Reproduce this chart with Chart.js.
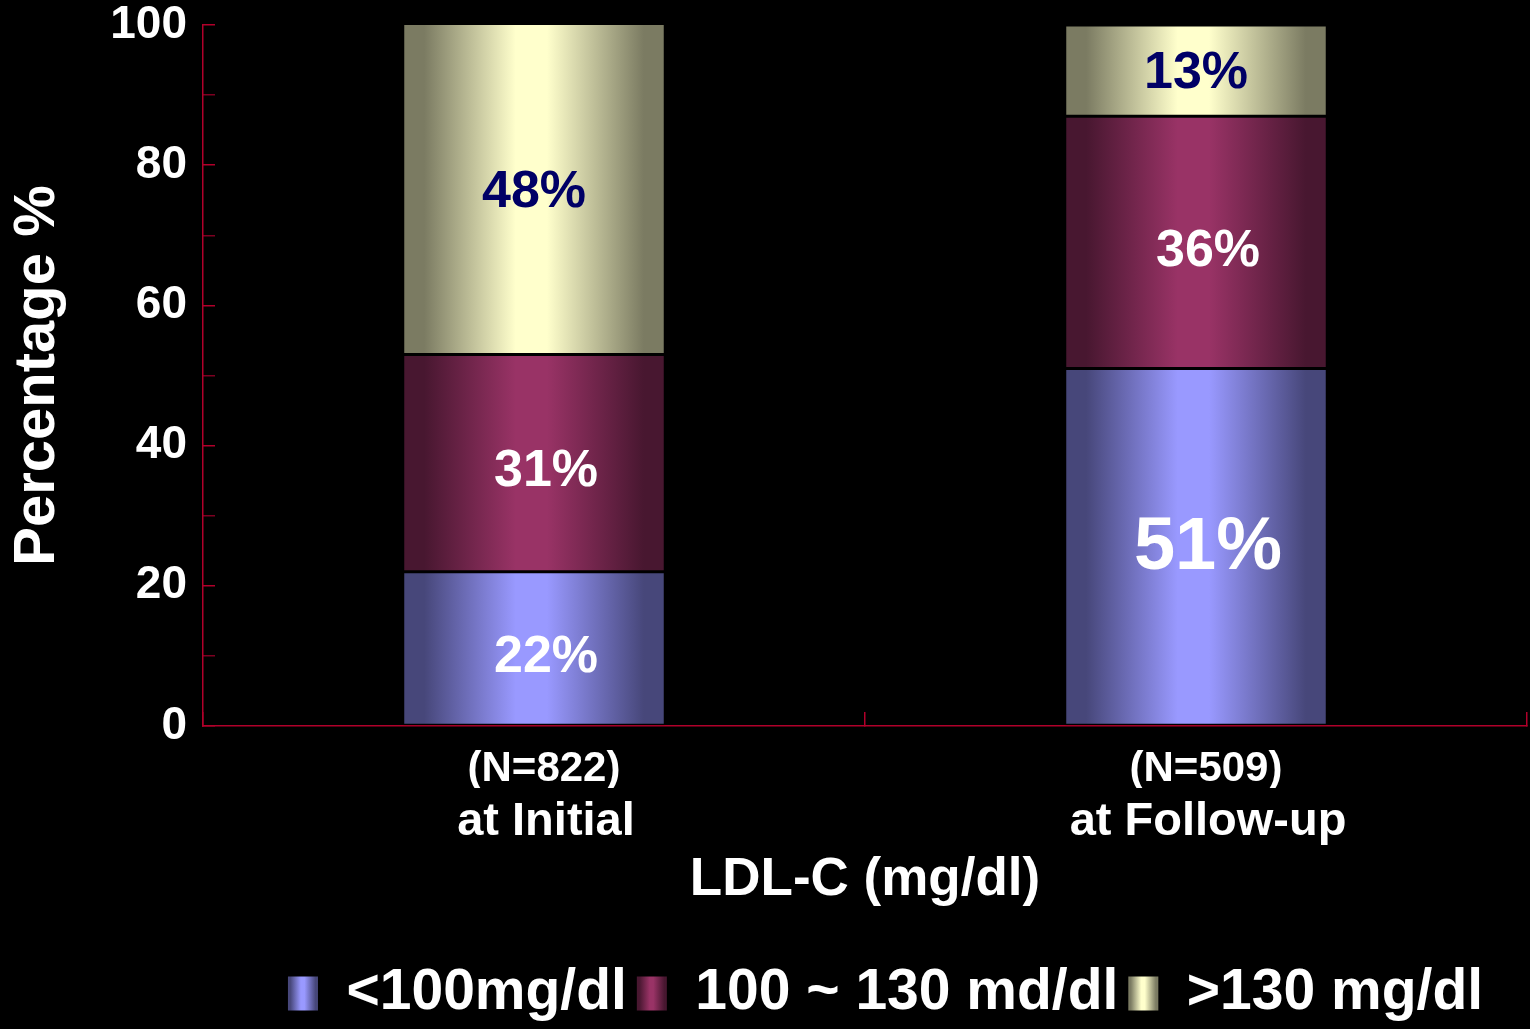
<!DOCTYPE html>
<html>
<head>
<meta charset="utf-8">
<title>LDL-C (mg/dl)</title>
<script src="https://cdn.jsdelivr.net/npm/chart.js@4/dist/chart.umd.min.js"></script>
<style>
  html, body { margin: 0; padding: 0; background: #000; }
  #wrap { width: 1530px; height: 1029px; position: relative; }
</style>
</head>
<body>
<div id="wrap"><canvas id="ldl"></canvas></div>
<script>
// ---- data ----
const categories = ['at Initial', 'at Follow-up'];
const sampleSizes = ['(N=822)', '(N=509)'];
const seriesNames = ['<100mg/dl', '100 ~ 130 md/dl', '>130 mg/dl'];
const below100 = [22, 51];
const from100to130 = [31, 36];
const above130 = [48, 13];
const yTickLabels = [0, 20, 40, 60, 80, 100];

// ---- style ----
const FONT = "'Liberation Sans', Arial, Helvetica, sans-serif";
const AXIS_RED = '#b0002a';
const AXIS_RED_MINOR = '#7c0020';
const BAR_FRACTION = 0.395;
const palette = [
  { light: '#9999ff', dark: '#47477a' },
  { light: '#993366', dark: '#481730' },
  { light: '#ffffcc', dark: '#7b7b62' }
];

Chart.defaults.font.family = FONT;
Chart.defaults.font.weight = 'bold';
Chart.defaults.color = '#ffffff';

// horizontal "cylinder" shading across a bar or legend swatch
function shade(ctx, x0, x1, pal) {
  if (!isFinite(x0) || !isFinite(x1) || x1 <= x0) return pal.light;
  const g = ctx.createLinearGradient(x0, 0, x1, 0);
  g.addColorStop(0, pal.dark);
  g.addColorStop(0.08, pal.dark);
  g.addColorStop(0.43, pal.light);
  g.addColorStop(0.55, pal.light);
  g.addColorStop(0.92, pal.dark);
  g.addColorStop(1, pal.dark);
  return g;
}

function barFill(pal) {
  return (c) => {
    const xs = c.chart.scales.x;
    if (c.type !== 'data' || !xs) return pal.light;
    const center = xs.getPixelForValue(c.dataIndex);
    const half = (xs.width / categories.length) * BAR_FRACTION / 2;
    return shade(c.chart.ctx, center - half, center + half, pal);
  };
}

const seriesValues = [below100, from100to130, above130];

const datasets = seriesValues.map((vals, i) => ({
  label: seriesNames[i],
  data: vals,
  backgroundColor: barFill(palette[i]),
  borderColor: 'rgba(0,0,0,0.9)',
  borderWidth: { top: 1.5, bottom: 1.5, left: 1, right: 1 },
  borderSkipped: false,
  barPercentage: BAR_FRACTION,
  categoryPercentage: 1
}));

const chartDecor = {
  id: 'chartDecor',
  afterLayout(chart) {
    // move the legend row to the right of centre
    const lg = chart.legend;
    if (lg) { lg.left += 122; lg.right += 122; }
  },
  beforeDraw(chart) {
    const ctx = chart.ctx;
    ctx.save();
    ctx.fillStyle = '#000';
    ctx.fillRect(0, 0, chart.width, chart.height);
    ctx.restore();
    const lg = chart.legend;
    if (lg && lg.legendItems && lg.legendHitBoxes) {
      const bw = lg.options.labels.boxWidth;
      lg.legendItems.forEach((item, i) => {
        const hb = lg.legendHitBoxes[i];
        if (hb) item.fillStyle = shade(ctx, hb.left, hb.left + bw, palette[i]);
      });
    }
  },
  afterDatasetsDraw(chart) {
    const ctx = chart.ctx;
    const area = chart.chartArea;
    ctx.save();
    ctx.textAlign = 'center';
    ctx.textBaseline = 'middle';
    chart.data.datasets.forEach((ds, di) => {
      const meta = chart.getDatasetMeta(di);
      meta.data.forEach((bar, i) => {
        const value = ds.data[i];
        const top = Math.max(bar.y, area.top);
        const bottom = Math.min(bar.base, area.bottom);
        const onLight = di === 2;
        const big = value > 50;
        const size = big ? 74 : 52;
        ctx.font = `bold ${size}px ${FONT}`;
        ctx.fillStyle = onLight ? '#000066' : '#ffffff';
        const x = bar.x + (onLight ? 0 : 12);
        const y = (top + bottom) / 2 + (onLight ? 3 : (big ? 2 : 9));
        ctx.fillText(value + '%', x, y);
      });
    });
    ctx.restore();
  }
};

new Chart(document.getElementById('ldl'), {
  type: 'bar',
  data: { labels: categories, datasets },
  plugins: [chartDecor],
  options: {
    responsive: true,
    maintainAspectRatio: false,
    animation: false,
    layout: { padding: { top: 25, right: 3, left: 0, bottom: -3 } },
    plugins: {
      tooltip: { enabled: false },
      legend: {
        position: 'bottom',
        labels: {
          color: '#ffffff',
          font: { size: 57, weight: 'bold', family: FONT },
          boxWidth: 30,
          boxHeight: 34,
          padding: 10,
          generateLabels(chart) {
            const items = Chart.defaults.plugins.legend.labels.generateLabels(chart);
            items.forEach(it => { it.lineWidth = 0; it.strokeStyle = 'rgba(0,0,0,0)'; });
            return items;
          }
        }
      }
    },
    scales: {
      x: {
        type: 'category',
        stacked: true,
        offset: true,
        weight: 0,
        grid: {
          display: true,
          offset: true,
          drawOnChartArea: false,
          drawTicks: true,
          tickLength: -14,
          color: AXIS_RED,
          lineWidth: 1.5
        },
        border: { display: true, color: AXIS_RED, width: 1.5 },
        ticks: {
          color: '#ffffff',
          font: { size: 42, weight: 'bold' },
          padding: 32,
          labelOffset: 10,
          maxRotation: 0,
          autoSkip: false,
          callback: (v, i) => sampleSizes[i]
        },
        afterFit: (s) => { s.height = 62; }
      },
      x2: {
        type: 'category',
        position: 'bottom',
        labels: categories,
        offset: true,
        weight: 1,
        grid: { display: false },
        border: { display: false },
        ticks: {
          color: '#ffffff',
          font: { size: 47, weight: 'bold' },
          padding: -2,
          labelOffset: 12,
          maxRotation: 0,
          autoSkip: false,
          callback: (v, i) => categories[i]
        },
        title: {
          display: true,
          text: 'LDL-C (mg/dl)',
          color: '#ffffff',
          font: { size: 53, weight: 'bold' },
          padding: { top: 0, bottom: 43 }
        },
        afterFit: (s) => { s.height = 167; }
      },
      y: {
        stacked: true,
        min: 0,
        max: 100,
        grid: {
          drawOnChartArea: false,
          drawTicks: true,
          tickLength: -12,
          color: (c) => (c.tick && c.tick.value % 20 === 0) ? AXIS_RED : AXIS_RED_MINOR,
          lineWidth: 1.5
        },
        border: { display: true, color: AXIS_RED, width: 1.5 },
        ticks: {
          stepSize: 10,
          color: '#ffffff',
          font: { size: 46, weight: 'bold', lineHeight: 1 },
          padding: 28,
          autoSkip: false,
          callback: (v) => yTickLabels.includes(v) ? String(v) : ''
        },
        title: {
          display: true,
          text: 'Percentage %',
          color: '#ffffff',
          font: { size: 58, weight: 'bold' },
          padding: { top: 3, bottom: 0 }
        },
        afterFit: (s) => { s.width = 203; s.paddingTop = 0; s.paddingBottom = 0; }
      }
    }
  }
});
</script>
</body>
</html>
